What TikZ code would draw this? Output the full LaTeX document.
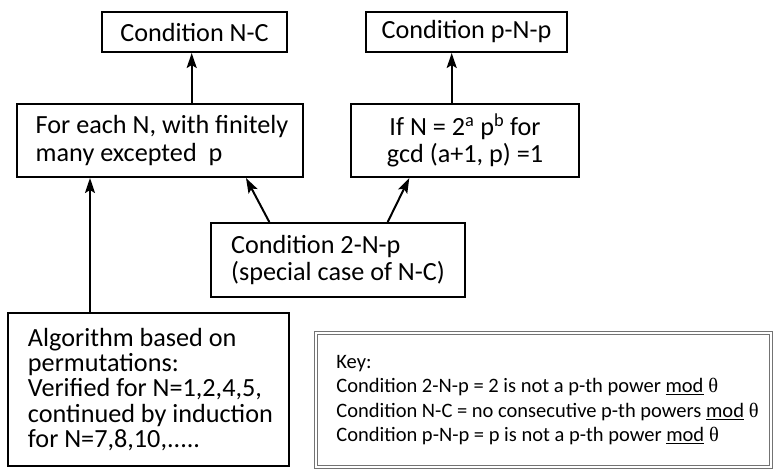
\documentclass[tikz,border=0pt]{standalone}
\usepackage{fontspec}
\setmainfont{Carlito}
\newfontfamily\thetafont{Liberation Serif}
\usetikzlibrary{arrows.meta}
\tikzset{
  box/.style={draw=black, line width=2pt, inner sep=0pt, fill=white},
  arr/.style={line width=2pt, -{Stealth[length=15pt, width=10pt, inset=3pt]}},
  keybox/.style={draw=black!55, line width=1pt, double=white, double distance=1.6pt, inner sep=0pt},
  big/.style={font=\fontsize{26.2}{#1}\selectfont},
}
\newcommand{\keymod}{\underline{mod}~{\thetafont θ}}
\newcommand{\kin}{\hspace*{8pt}}
\newcommand{\bin}{\hspace*{4pt}}
\begin{document}
\begin{tikzpicture}[x=1pt,y=-1pt]
\useasboundingbox[fill=white] (0,0) rectangle (778,471);
\node[box, big=27, minimum width=185pt, minimum height=40pt] (nc) at (194.5,32) {Condition N-C};
\node[box, big=27, minimum width=201pt, minimum height=40pt] (pnp) at (466.5,32) {Condition p-N-p};
\node[box, big=28.3, minimum width=286pt, minimum height=73pt, align=left] (fe) at (160,140.5)
  {\bin For each N, with finitely\\\bin many excepted\ \ p};
\node[box, big=26.7, minimum width=228pt, minimum height=73pt, align=center] (ifn) at (465,140.5)
  {If N = 2\textsuperscript{a} p\textsuperscript{b} for\\gcd (a+1, p) =1};
\node[box, big=26.7, minimum width=254pt, minimum height=74pt, align=left] (twonp) at (338,260)
  {Condition 2-N-p\\(special case of N-C)};
\node[box, big=25.4, minimum width=281pt, minimum height=153pt, align=left] (algo) at (148.5,389.5)
  {\bin Algorithm based on\\\bin permutations:\\\bin Verified for N=1,2,4,5,\\\bin continued by induction\\\bin for N=7,8,10,.....};
\node[keybox, font=\fontsize{20.5}{24.5}\selectfont, minimum width=455.4pt, minimum height=134.4pt, align=left] (key) at (543.5,400)
  {\kin Key:\\
   \kin Condition 2-N-p = 2 is not a p-th power \keymod\\
   \kin Condition N-C = no consecutive p-th powers \keymod\\
   \kin Condition p-N-p = p is not a p-th power \keymod};
\draw[arr] ([xshift=31.7pt]fe.north) -- ([xshift=-2.8pt]nc.south);
\draw[arr] ([xshift=-13.3pt]ifn.north) -- ([xshift=-14.8pt]pnp.south);
\draw[arr] ([xshift=-58.5pt]algo.north) -- ([xshift=-70pt]fe.south);
\draw[arr] ([xshift=-68.7pt]twonp.north) -- ([xshift=86pt]fe.south);
\draw[arr] ([xshift=49.7pt]twonp.north) -- ([xshift=-55.7pt]ifn.south);
\end{tikzpicture}
\end{document}
